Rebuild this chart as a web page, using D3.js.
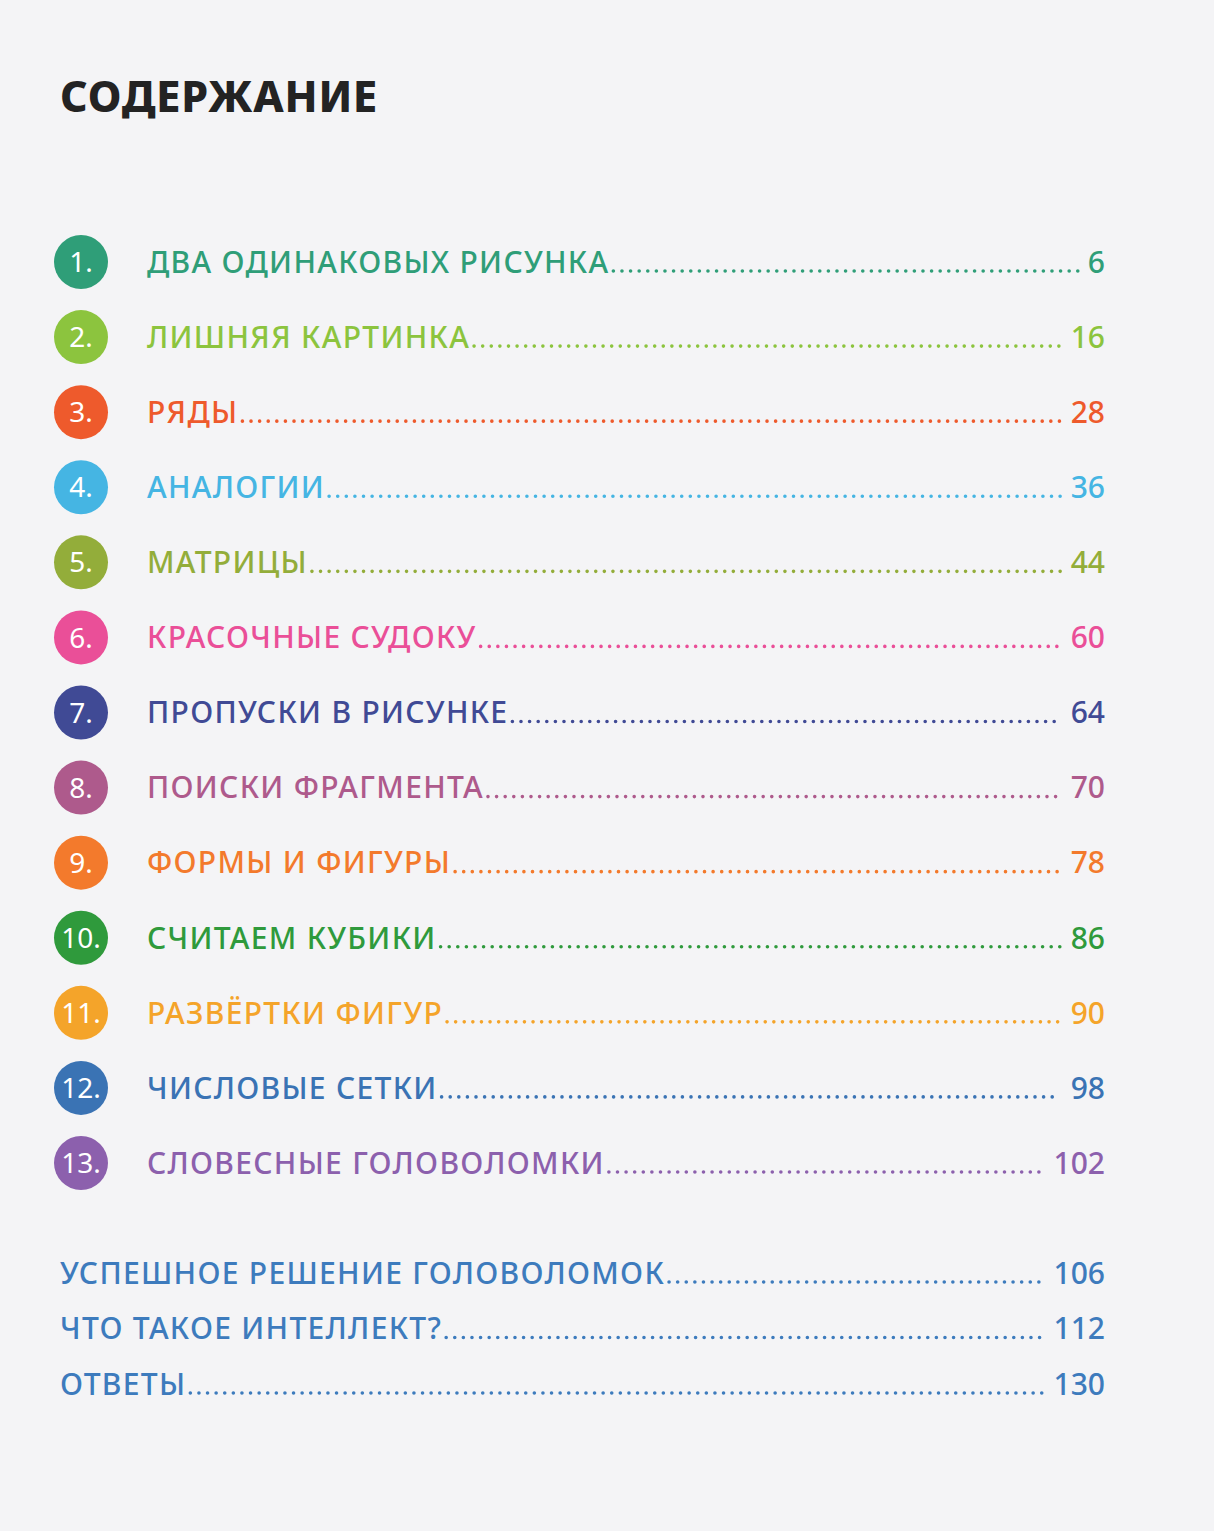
<!DOCTYPE html>
<html><head><meta charset="utf-8">
<script src="https://cdn.jsdelivr.net/npm/d3@7"></script>
<style>body{margin:0;background:#f4f4f6}svg{display:block}</style>
</head><body><div id="page"></div>
<script>
// content rows
const numbers = ["1.","2.","3.","4.","5.","6.","7.","8.","9.","10.","11.","12.","13."];
const titles = ["ДВА ОДИНАКОВЫХ РИСУНКА","ЛИШНЯЯ КАРТИНКА","РЯДЫ","АНАЛОГИИ","МАТРИЦЫ","КРАСОЧНЫЕ СУДОКУ","ПРОПУСКИ В РИСУНКЕ","ПОИСКИ ФРАГМЕНТА","ФОРМЫ И ФИГУРЫ","СЧИТАЕМ КУБИКИ","РАЗВЁРТКИ ФИГУР","ЧИСЛОВЫЕ СЕТКИ","СЛОВЕСНЫЕ ГОЛОВОЛОМКИ"];
const pages = ["6","16","28","36","44","60","64","70","78","86","90","98","102"];
const colors = ["#2f9e78","#8cc43e","#ee5a2c","#45b5e3","#93ad3a","#ea4f98","#404a95","#ae5a8c","#f37a2c","#2f9a3c","#f4a42a","#3a73b4","#8c60ad"];
const extraTitles = ["УСПЕШНОЕ РЕШЕНИЕ ГОЛОВОЛОМОК","ЧТО ТАКОЕ ИНТЕЛЛЕКТ?","ОТВЕТЫ"];
const extraPages = ["106","112","130"];
const extraColor = "#3d7bbd";

const width = 1214, height = 1531;
const svg = d3.select("#page").append("svg").attr("width", width).attr("height", height);
svg.append("rect").attr("width", width).attr("height", height).attr("fill", "#f4f4f6");

const font = "'Noto Sans', sans-serif";

svg.append("text").attr("x", 60).attr("y", 112)
  .attr("font-family", font).attr("font-weight", 800).attr("font-size", 43)
  .attr("letter-spacing", 0.8).attr("fill", "#232323").text("СОДЕРЖАНИЕ");

const y = d3.scalePoint().domain(d3.range(titles.length)).range([262, 1163]);
const yExtra = d3.scalePoint().domain(d3.range(extraTitles.length)).range([1273, 1384]);
const rightX = 1105;

function row(g, x, title, page, color, size) {
  const t = g.append("text").attr("x", x).attr("dy", "0.36em")
    .attr("font-family", font).attr("font-weight", 500).attr("font-size", size)
    .attr("letter-spacing", 1.3).attr("fill", color).text(title);
  const p = g.append("text").attr("x", rightX).attr("dy", "0.36em").attr("text-anchor", "end")
    .attr("font-family", font).attr("font-weight", 500).attr("font-size", size)
    .attr("fill", color).text(page);
  const x0 = x + t.node().getComputedTextLength() + 4;
  const x1 = rightX - p.node().getComputedTextLength() - 10;
  g.append("line").attr("x1", x0).attr("x2", x1).attr("y1", 9).attr("y2", 9)
    .attr("stroke", color).attr("stroke-width", 3.6).attr("stroke-linecap", "round")
    .attr("stroke-dasharray", "0 8.6");
}

const rows = svg.selectAll("g.row").data(d3.range(titles.length)).join("g")
  .attr("class", "row").attr("transform", i => `translate(0,${y(i)})`);

rows.append("circle").attr("cx", 81).attr("r", 27).attr("fill", i => colors[i]);
rows.append("text").attr("x", 81).attr("dy", "0.36em").attr("text-anchor", "middle")
  .attr("font-family", font).attr("font-size", 28).attr("fill", "#fff")
  .text(i => numbers[i]);
rows.each(function(i) { row(d3.select(this), 147, titles[i], pages[i], colors[i], 30); });

svg.selectAll("g.extra").data(d3.range(extraTitles.length)).join("g")
  .attr("class", "extra").attr("transform", i => `translate(0,${yExtra(i)})`)
  .each(function(i) { row(d3.select(this), 60, extraTitles[i], extraPages[i], extraColor, 30); });
</script></body></html>
